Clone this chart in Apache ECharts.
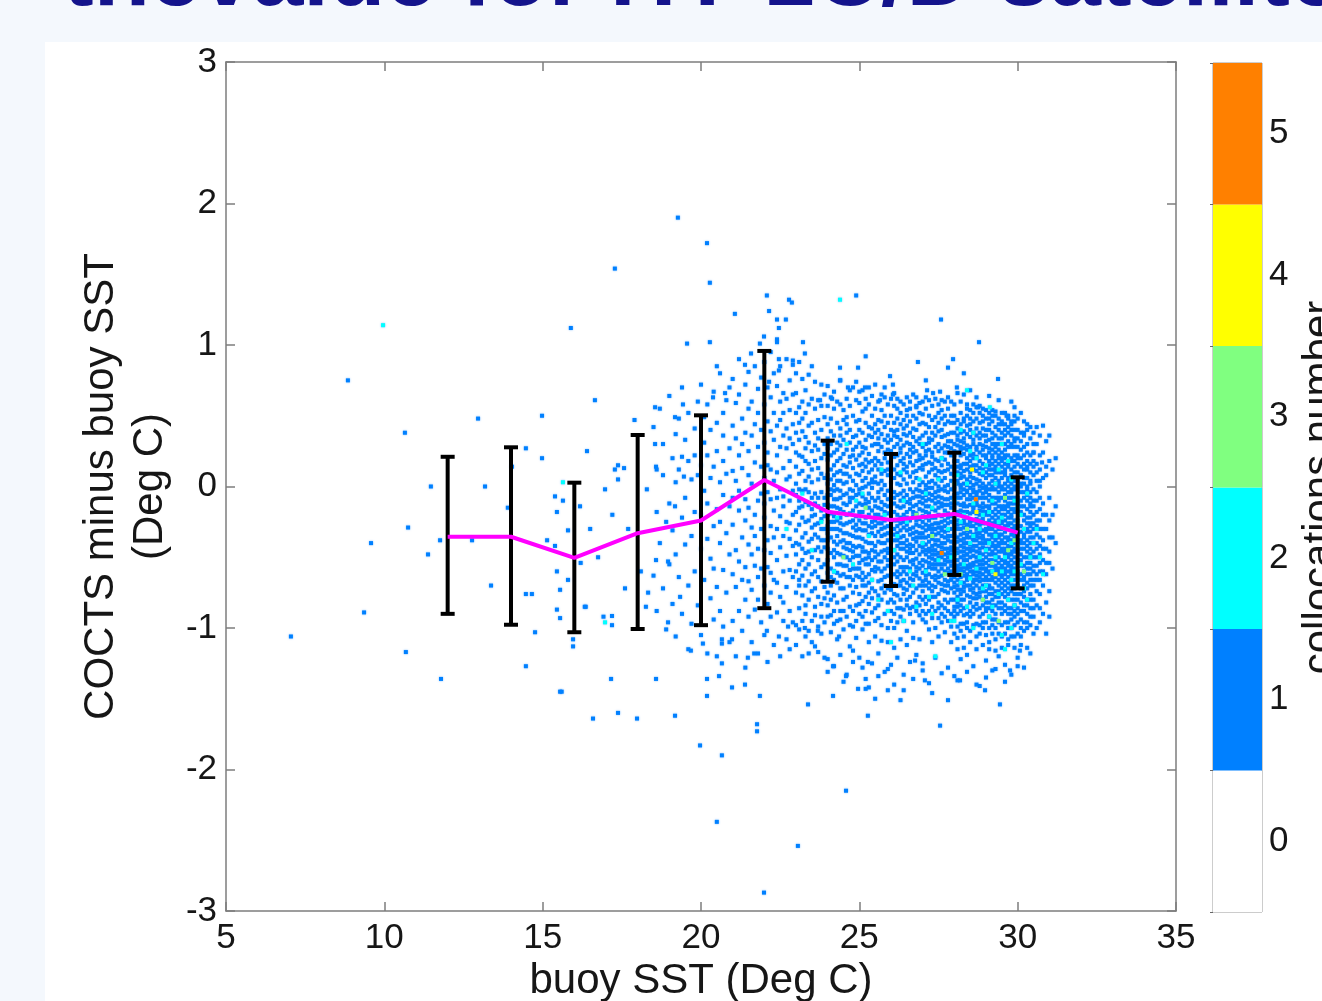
<!DOCTYPE html>
<html><head><meta charset="utf-8">
<script src="https://cdn.jsdelivr.net/npm/echarts@6/dist/echarts.min.js"></script>
<style>
html,body{margin:0;padding:0;background:#f4f8fd;width:1322px;height:1001px;overflow:hidden;}
#panel{position:absolute;left:45px;top:42px;right:0;bottom:0;background:#fff;}
#chart{position:absolute;left:0;top:0;width:1322px;height:1001px;}
</style></head><body><div id="panel"></div><div id="chart"></div>
<script>
// ---------------- DATA ----------------
// error-bar statistics per 2 °C bin
const binCenters = [12,14,16,18,20,22,24,26,28,30];
const binMean  = [-0.355,-0.355,-0.505,-0.33,-0.24,0.046,-0.178,-0.237,-0.194,-0.326];
const binUpper = [0.21,0.277,0.027,0.364,0.503,0.958,0.324,0.23,0.239,0.065];
const binLower = [-0.90,-0.977,-1.03,-1.007,-0.98,-0.86,-0.673,-0.703,-0.625,-0.72];

// colour-bar levels (collocations number)
const colorLevels = ['0','1','2','3','4','5'];

// occupied histogram cells with 1 collocation: [buoy SST, [differences in 0.01 °C]]
const sst18to20 = [
[18.5,[42,-63]],[18.6,[-18,12,-88]],[18.7,[55,-40]],[18.8,[-72,8,30]],[18.9,[-25,-101]],
[19.0,[64,-12,-55]],[19.1,[20,-83,-31]],[19.2,[-48,37,-106,3]],[19.3,[12,-64,48]],[19.4,[-22,-90,70]],
[19.5,[33,-41,-8]],[19.6,[-70,18,52,-115]],[19.7,[-35,5,-97]],[19.8,[41,-60,-18,22]],[19.9,[-84,8,60]]
];
const sst20to22 = [
[20.0,[-44,15,72,-105,-20]],[20.1,[31,-66,-3,49]],[20.2,[-118,-37,22,58,-12]],[20.3,[6,-79,40,-51]],
[20.4,[-28,67,-94,14,-58]],[20.5,[45,-16,-71,25,-120]],[20.6,[-40,3,80,-88,-25]],[20.7,[18,-59,52,-6,-99,36]],
[20.8,[-33,61,-75,9]],[20.9,[27,-48,-110,-14,70]],
[21.0,[-62,11,43,-27,-95,76,-8]],[21.1,[34,-45,-120,4,59,-71]],[21.2,[-17,65,-88,22,-53,-3,90]],
[21.3,[48,-36,-102,13,-66,30]],[21.4,[-9,72,-57,38,-128,-24,-80]],[21.5,[55,-41,8,-92,25,-15,-67,81]],
[21.6,[-29,36,-73,60,-110,2,-48]],[21.7,[17,-56,85,-20,-87,44,-35]],[21.8,[-64,28,-10,69,-118,-44,52,-80]],
[21.9,[40,-30,-96,14,77,-58,-5]]
];
const sst22to24 = [
[22.0,[-22,58,-70,31,-105,6,-45,88,-12]],[22.1,[46,-38,15,-83,70,-57,-4,24,-124]],
[22.2,[-61,12,95,-28,39,-92,-47,63,-9,-75]],[22.3,[33,-17,-66,80,4,-112,52,-36]],
[22.4,[-52,22,71,-8,-89,43,-30,104,-68,10]],[22.5,[60,-43,-2,28,-78,-120,47,-21,85]],
[22.6,[-14,36,-60,66,-95,13,-35,-7,52,-82]],[22.7,[27,-49,90,-25,5,-71,41,-108,62]],
[22.8,[-37,54,-88,18,-10,75,-59,34,-26,-115,7]],[22.9,[44,-20,-64,65,-3,-96,30,-42,86]],
[23.0,[52,38,-6,14,-31,-48,-60,-75,24,-18,2,-40,66,-98,-112,80]],
[23.1,[45,33,9,-15,-27,-41,-66,-86,-2,22,-55,-10,88,-101,-70,56]],
[23.2,[60,21,-3,-22,-36,-52,-63,-77,11,39,-14,-44,76,-95,-120,48]],
[23.3,[35,18,4,-11,-33,-47,-58,-70,27,-25,-84,52,68,-90,-106,-2]],
[23.4,[43,7,-13,-24,-39,-55,-67,31,16,-4,-80,58,79,-102,-118,-46]],
[23.5,[62,25,12,3,-8,-16,-29,-37,-50,-62,-74,45,85,-95,-110,-21]],
[23.6,[55,38,18,-5,-20,-34,-45,-60,-72,29,-12,-85,74,-91,-113,-27]],
[23.7,[47,26,13,5,-14,-26,-36,-43,-52,-64,-78,34,61,-99,-117,-8]],
[23.8,[57,40,20,9,-4,-17,-30,-46,-57,-67,-83,-23,72,-92,-104,-38]],
[23.9,[49,30,23,6,-8,-21,-13,-38,-43,-55,-71,-79,65,-96,-121,-30]]
];
const sst24to26 = [
[24.0,[57,44,34,19,8,2,-13,-28,-33,-44,-52,-61,-75,-84,27,-6,-20,-38,-92,-122,-131,71]],
[24.1,[63,48,30,22,12,5,-6,-19,-25,-36,-47,-58,-70,-80,-2,-14,-30,-64,-91,-103,39]],
[24.2,[55,36,24,15,8,-3,-14,-21,-30,-39,-50,-60,-66,-77,-88,-9,-45,-25,-97,-127,67,1]],
[24.3,[60,45,31,18,4,-9,-24,-35,-41,-47,-55,-68,-82,26,-15,-2,-30,-61,-95,-108,10]],
[24.4,[58,41,29,20,11,-3,-8,-16,-22,-31,-48,-55,-63,-72,-88,36,-39,-26,-94,-119,75,4]],
[24.5,[54,47,33,23,15,2,-12,-18,-27,-38,-43,-49,-62,-72,-80,-6,-33,-56,-88,-101,-138,9]],
[24.6,[62,44,38,26,14,3,-5,-20,-33,-44,-56,-64,-78,9,-13,-26,-40,-50,-92,-133,49]],
[24.7,[57,40,31,21,17,7,-2,-11,-25,-34,-45,-52,-59,-70,-85,-19,-8,-40,-98,-113,68,-64]],
[24.8,[50,35,26,13,4,-8,-17,-29,-42,-50,-58,-66,-75,22,-3,-24,-35,-88,-99,-124,70,-46]],
[24.9,[61,46,36,28,19,9,1,-6,-21,-27,-36,-43,-49,-58,-71,-84,-14,-31,-95,-107,74,-63]],
[25.0,[59,47,40,31,22,15,8,-2,-12,-24,-30,-36,-49,-58,-64,-76,-83,-5,-18,-42,-54,-90,-121,67]],
[25.1,[53,38,28,24,16,11,4,-7,-18,-26,-37,-43,-52,-61,-70,-81,-1,-13,-31,-46,-66,-92,-101,-128,68]],
[25.2,[62,55,45,33,27,19,14,6,0,-12,-22,-31,-39,-46,-55,-64,-70,-78,-88,-9,-26,-97,-136,-51]],
[25.3,[58,42,36,23,17,10,-5,-15,-20,-28,-40,-47,-55,-62,-68,-83,2,-34,-50,-75,-97,-110,-142,70,-11]],
[25.4,[64,50,41,35,29,18,12,5,-1,-8,-17,-25,-33,-40,-45,-52,-66,-72,-79,-89,-59,-125,-29,3]],
[25.5,[55,44,38,30,20,15,7,3,-10,-20,-28,-35,-42,-50,-60,-74,-86,-14,-24,-57,-95,-106,72,-46]],
[25.6,[60,47,40,34,25,18,12,2,-4,-15,-26,-32,-39,-48,-58,-67,-77,-84,-20,-8,-93,-118,-134,-53,30]],
[25.7,[54,46,37,28,16,9,4,-11,-16,-22,-30,-40,-53,-60,-66,-80,-2,-35,-46,-72,-98,-109,65,-26]],
[25.8,[63,50,42,33,24,20,11,1,-6,-13,-24,-34,-45,-58,-64,-70,-75,-18,-29,-50,-90,-131,70,-40]],
[25.9,[58,45,36,26,17,12,8,-9,-19,-28,-38,-47,-52,-56,-63,-72,-82,-3,-14,-33,-100,-110,-129,-44,31]]
];
const sst26to28 = [
[26.0,[62,50,40,33,25,18,14,10,3,-8,-20,-27,-35,-40,-47,-58,-64,-73,-80,-88,-13,-30,-52,-95,-126,-68,-2]],
[26.1,[57,45,39,28,21,12,6,-4,-12,-18,-30,-38,-45,-55,-62,-69,-82,-90,-24,-34,-50,-76,-100,-114,-140,66,36,-8]],
[26.2,[62,55,48,35,30,22,15,9,2,-6,-14,-24,-33,-42,-48,-53,-60,-70,-77,-86,-20,-38,-64,-96,-121,40,-28]],
[26.3,[60,52,44,33,27,18,8,1,-10,-15,-26,-36,-44,-50,-57,-62,-70,-80,-92,-5,-22,-31,-67,-108,24,-40,-86]],
[26.4,[58,47,41,37,29,20,16,12,5,-3,-8,-20,-29,-35,-40,-52,-60,-66,-76,-87,-44,-14,-25,-95,-133,-144,-57,-72]],
[26.5,[63,50,43,36,31,23,14,10,2,-11,-18,-27,-31,-38,-46,-50,-57,-68,-73,-80,-84,-22,-6,-62,-102,-112,-42]],
[26.6,[60,55,46,38,30,26,21,17,7,-2,-9,-16,-24,-34,-41,-47,-53,-58,-65,-78,-86,-30,-12,-44,-90,-124,-70]],
[26.7,[65,50,41,35,28,24,15,10,3,-4,-14,-21,-29,-37,-42,-47,-55,-62,-75,-85,-33,-8,-52,-96,-107,-136,-66,-18]],
[26.8,[63,57,48,40,32,25,18,11,6,-7,-13,-19,-27,-32,-39,-45,-51,-60,-63,-72,-82,-24,-2,-57,-119,-88,-36]],
[26.9,[59,52,44,34,30,22,19,13,1,-3,-11,-16,-23,-33,-36,-48,-58,-65,-70,-78,-84,-28,-42,-91,-108,-54,-7]],
[27.0,[60,51,45,36,28,20,15,12,3,-8,-17,-25,-29,-33,-40,-46,-52,-61,-67,-74,-80,-88,-12,-4,-36,-56,-94,-125,-130,-43,-21,-70]],
[27.1,[63,55,44,38,30,25,22,16,7,1,-10,-14,-22,-31,-36,-41,-48,-59,-66,-70,-78,-83,-2,-27,-53,-90,-96,-45,-63,-18,-6]],
[27.2,[61,50,42,34,31,26,17,10,3,-5,-9,-19,-24,-28,-35,-44,-50,-57,-62,-68,-72,-80,-14,-39,-54,-88,-101,-139,-46,-30,-1]],
[27.3,[57,47,38,33,24,21,16,12,4,-1,-6,-16,-27,-30,-37,-42,-48,-55,-64,-70,-74,-85,-22,-10,-58,-93,-110,-146,-33,-45,-78,-51]],
[27.4,[62,49,42,36,28,19,13,8,2,-4,-12,-22,-30,-34,-38,-45,-52,-58,-63,-71,-78,-88,-17,-26,-41,-100,-121,-66,-8,-55,-48]],
[27.5,[58,52,45,39,30,25,18,11,6,0,-7,-15,-20,-26,-38,-42,-47,-55,-60,-68,-76,-82,-33,-11,-50,-93,-106,-64,-29,-3,-86]],
[27.6,[61,54,48,40,35,27,20,15,10,4,-2,-8,-14,-21,-29,-35,-40,-46,-50,-58,-63,-73,-84,-25,-55,-90,-96,-132,-69,-43,-31,-12]],
[27.7,[60,50,44,36,29,24,19,11,6,-3,-9,-17,-24,-28,-32,-40,-48,-55,-60,-66,-74,-80,-86,-13,-44,-92,-103,-36,-52,-70,0]],
[27.8,[63,55,46,37,32,28,24,16,12,1,-4,-13,-19,-26,-31,-38,-44,-50,-53,-61,-67,-70,-82,-88,-9,-35,-95,-128,-58,-22,-47,-75]],
[27.9,[60,50,45,38,32,27,22,14,9,4,-8,-15,-21,-25,-30,-39,-45,-48,-56,-63,-66,-72,-80,-90,-12,-35,-99,-110,-53,-2,-43,-60]]
];
const sst28to30 = [
[28.0,[58,50,45,38,30,25,22,18,12,8,3,0,-2,-10,-15,-22,-28,-33,-35,-40,-48,-55,-58,-62,-68,-75,-80,-85,-92,-104,-6,-19,-44,-52,-71,-88,-134,-26,-64]],
[28.1,[66,47,41,36,33,29,24,14,10,4,-5,-12,-18,-24,-27,-36,-39,-44,-47,-52,-56,-60,-66,-70,-78,-85,-90,-99,-115,2,-8,-30,-58,-73,-82,-107,-137,-62,-20,18]],
[28.2,[60,52,44,38,32,26,22,15,13,6,1,-4,-8,-13,-20,-26,-30,-34,-38,-46,-50,-55,-64,-68,-73,-76,-84,-97,-122,-42,-60,-17,-88,-102,9,-80,-58,-1,28]],
[28.3,[65,48,46,39,34,31,27,23,16,11,7,2,-2,-6,-14,-18,-24,-29,-33,-37,-43,-49,-57,-63,-68,-74,-80,-86,-91,-106,-40,-60,-12,-52,-97,-114,-71,-26,-46]],
[28.4,[58,55,50,43,37,29,26,20,16,12,5,1,-3,-9,-14,-22,-27,-31,-36,-40,-44,-48,-52,-58,-62,-64,-70,-77,-85,-96,-100,-119,-131,-18,-56,-34,-4,-66,-90,-48]],
[28.5,[68,54,48,44,40,35,28,22,18,14,10,7,3,-6,-13,-19,-24,-28,-32,-36,-41,-46,-50,-55,-60,-64,-70,-78,-82,-88,-92,-102,-9,-44,-57,-73,-110,-1,-25]],
[28.6,[58,52,46,38,33,30,23,20,15,6,1,-2,-8,-14,-16,-24,-28,-34,-38,-42,-45,-49,-54,-60,-62,-68,-75,-79,-85,-90,-127,-18,-56,-66,-98,-4,-37,-72,12]],
[28.7,[63,56,48,41,36,28,26,21,15,11,5,2,-4,-6,-11,-19,-26,-30,-35,-38,-42,-46,-50,-53,-60,-66,-70,-76,-79,-87,-97,-115,-140,-13,-23,-57,-63,-83,-106,-33]],
[28.8,[57,52,45,38,34,30,24,18,13,9,4,0,-3,-8,-14,-17,-24,-30,-36,-40,-44,-47,-52,-58,-64,-67,-72,-78,-86,-92,-104,-20,-27,-55,-61,-75,-141,-33,-98]],
[28.9,[55,50,46,41,36,29,22,16,12,8,2,-5,-8,-12,-18,-23,-31,-35,-37,-43,-48,-55,-58,-62,-66,-74,-80,-84,-90,-100,-112,-26,-15,-52,-70,-96,-40,-1,26]],
[29.0,[54,48,40,36,32,28,20,14,10,6,0,-4,-8,-14,-20,-26,-32,-38,-40,-46,-50,-54,-58,-64,-70,-74,-78,-82,-88,-96,-105,-2,-18,-30,-44,-60,-66,-86,-123,-135,22]],
[29.1,[64,52,48,44,40,33,27,24,18,15,12,8,2,-2,-6,-16,-24,-28,-34,-38,-44,-48,-56,-60,-62,-70,-76,-82,-92,-100,-110,-10,-20,-30,-52,-66,-86,-115,-40,-72,-14]],
[29.2,[54,50,46,38,34,30,26,22,16,12,8,4,-2,-12,-18,-22,-26,-30,-36,-42,-46,-52,-56,-60,-66,-72,-80,-88,-94,-104,-8,-34,-48,-64,-76,-84,-98,-130,0,20,-40]],
[29.3,[53,50,42,36,30,28,24,18,14,12,6,2,-8,-16,-20,-26,-32,-36,-38,-44,-48,-52,-58,-64,-74,-84,-90,-100,-116,-2,-12,-28,-42,-56,-68,-78,-94,-108,-129,-60,10,-24]],
[29.4,[61,48,44,40,34,30,26,22,20,16,10,4,0,-4,-10,-14,-22,-28,-34,-40,-42,-46,-50,-54,-60,-66,-70,-78,-86,-96,-120,-18,-30,-58,-74,-82,-104,-36,-62,-8,2]],
[29.5,[52,46,44,38,34,30,24,18,14,10,6,0,-2,-14,-20,-24,-30,-34,-40,-46,-52,-58,-62,-68,-76,-82,-90,-98,-106,-8,-26,-38,-44,-56,-72,-86,-114,-64,-16,20]],
[29.6,[52,44,40,36,30,26,22,20,16,12,8,2,-6,-10,-16,-20,-28,-32,-36,-44,-48,-52,-58,-62,-70,-78,-88,-96,-126,-138,-14,-24,-40,-54,-66,-74,-84,-104,-2,-46,-60,10]],
[29.7,[50,48,42,38,32,28,22,16,14,6,4,0,-8,-12,-18,-22,-28,-30,-36,-44,-48,-54,-60,-64,-72,-80,-90,-100,-108,-4,-26,-38,-42,-56,-68,-76,-86,-96,-112,-14,-50]],
[29.8,[60,46,44,40,36,30,28,20,18,12,8,2,-4,-8,-16,-22,-26,-34,-38,-46,-52,-60,-62,-70,-80,-86,-94,-100,-133,-12,-30,-42,-48,-56,-66,-74,-90,-106,-2,-20,-58]],
[29.9,[50,46,40,34,32,28,22,18,14,10,6,0,-2,-12,-18,-24,-30,-36,-40,-46,-50,-54,-62,-66,-76,-80,-88,-92,-106,-8,-28,-44,-58,-70,-84,-98,-114,-34,-16,-72,4]]
];
const sst30to32 = [
[30.0,[48,40,34,28,20,16,10,4,-8,-16,-24,-28,-34,-42,-46,-52,-60,-70,-76,-86,-96,-104,-127,-2,-12,-38,-56,-64,-80,-90,-121,22]],
[30.1,[52,38,32,26,20,14,8,0,-4,-10,-18,-28,-38,-44,-56,-62,-72,-82,-94,-100,-112,-20,-32,-48,-52,-66,-76,-88,-106,-14,-40,2]],
[30.2,[46,36,28,22,16,12,2,-4,-14,-20,-30,-34,-40,-50,-56,-64,-70,-78,-88,-102,-8,-24,-44,-60,-74,-84,-96,-128,6,-36,-66]],
[30.3,[44,40,30,24,18,12,6,-2,-10,-16,-26,-38,-46,-54,-62,-68,-80,-90,-100,-114,-6,-22,-32,-42,-58,-72,-84,-96,-50,0,-30,14]],
[30.4,[42,34,22,16,10,2,-4,-14,-22,-32,-40,-48,-58,-66,-76,-86,-92,-118,-8,-18,-28,-36,-44,-54,-62,-70,-80,-98,-26,4,-50,-12]],
[30.5,[38,30,24,18,14,8,-2,-20,-30,-40,-50,-60,-70,-80,-92,-104,-10,-26,-36,-46,-56,-66,-86,-14]],
[30.6,[42,30,16,4,-10,-18,-34,-44,-56,-66,-84,-100,-24,-40,-50,-74,-4,-28,-62,10]],
[30.7,[36,22,12,0,-24,-36,-48,-60,-76,-96,-8,-30,-42,-54,-66,-16,-86,4]],
[30.8,[43,24,6,-12,-30,-38,-52,-70,-90,-20,-44,-60]],
[30.9,[32,14,8,-20,-44,-62,-82,-104,-30,-54]],
[31.0,[36,18,-8,-36,-54,-74,-92,-24,-46]],
[31.1,[12,-20,-58,-36]],
[31.2,[20,-40,-14]]
];

// isolated cells with 1 collocation: [buoy SST, difference]
const isolatedCells = [
[7.05,-1.06],[8.85,0.75],[9.36,-0.89],[9.58,-0.40],[10.65,0.38],[10.68,-1.17],[10.75,-0.29],[11.47,0.0],
[11.38,-0.48],[11.76,-0.38],[11.79,-1.36],[12.96,0.48],[12.77,-0.38],[13.18,0.0],[13.37,-0.70],[13.9,-0.15],
[14.03,0.14],[14.47,0.27],[14.98,0.50],[14.98,0.20],[14.47,-0.76],[14.66,-0.76],[14.47,-1.27],[14.76,-1.03],
[15.55,-1.45],[15.39,-0.07],[15.64,-0.10],[15.45,-0.18],[15.8,-0.31],[15.14,-0.38],[15.39,-0.42],[15.45,-0.60],
[15.8,-0.66],[15.55,-0.73],[15.45,-0.87],[15.55,-0.93],[15.89,1.12],[17.28,1.54],[19.27,1.90],[20.19,1.72],
[20.28,1.44],[16.65,0.61],[15.96,-1.13],[15.96,-1.08],[16.36,-0.85],[15.6,-1.45],[17.16,-1.36],[18.58,-1.36],
[16.59,-1.64],[17.38,-1.60],[17.98,-1.64],[19.18,-1.62],[17.19,-0.915],[17.19,-0.98],[18.26,-0.85],[18.96,-0.96],
[16.18,-0.14],[16.2,-0.54],[16.75,-0.50],[16.33,-0.85],[16.97,-0.02],[17.2,-0.20],[17.38,0.15],[17.38,0.05],
[17.57,0.13],[17.28,0.12],[16.92,-0.92],[18.29,-0.02],[18.55,0.56],[18.55,0.30],[18.58,0.14],[18.58,-0.52],
[18.33,-0.75],[18.96,-0.53],[19.34,-0.78],[19.18,0.49],[19.43,0.58],[19.18,-0.14],[19.46,0.07],[19.4,0.21],
[17.9,0.47],[16.4,0.25],[17.7,-0.30],[16.5,-0.30],[18.1,-0.60],[17.6,-0.72],
[19.68,-1.16],[20.06,-1.11],[20.66,-1.08],[20.66,-1.11],[20.98,-1.08],[20.66,-1.25],[20.57,-1.34],[20.98,-1.42],
[21.39,-1.40],[21.86,-1.48],[21.48,-1.21],[21.68,-1.18],[20.19,-1.36],[20.19,-1.48],[22.08,-1.02],[22.46,-1.06],
[22.75,-0.99],[23.28,-1.0],[23.69,-1.02],[23.38,-1.54],[24.17,-1.48],[24.58,-1.34],[24.17,-1.27],[24.8,-1.16],
[24.36,-1.06],[24.96,-1.43],[25.2,-1.43],[25.5,-1.50],[25.27,-1.62],[25.27,-1.24],[21.77,-1.68],[21.77,-1.73],
[19.97,-1.83],[20.66,-1.90],[24.58,-2.15],[20.5,-2.37],[23.06,-2.54],[21.99,-2.87],
[25.9,-1.44],[27.07,-1.37],[27.55,-1.69],[29.44,-1.54],[28.97,-1.44],[29.76,-1.30],[30.07,-1.16],[28.18,-1.37],
[27.8,-1.51],[26.76,-1.23],[26.3,-1.51],
[22.08,1.35],[22.78,1.32],[22.87,1.30],[22.15,1.24],[21.07,1.22],[22.4,1.18],[22.68,1.18],[22.46,1.12],
[21.99,1.06],[19.56,1.01],[20.28,1.02],[21.86,1.01],[22.4,1.02],[23.22,1.02],[23.28,0.94],[21.58,0.94],
[21.39,0.86],[20.5,0.85],[22.46,0.90],[22.9,0.89],[22.46,0.82],[22.15,0.74],[20.76,0.66],[20.38,0.63],
[24.9,1.35],[27.58,1.18],[28.78,1.02],[25.2,0.92],[24.39,0.84],[24.96,0.84],[26.85,0.88],[27.96,0.90],
[27.8,0.84],[28.3,0.80],[29.38,0.76],[25.97,0.78],[24.39,0.75],[24.64,0.70],[25.18,0.70],[26.06,0.72],
[27.1,0.75],[28.08,0.70],[23.76,0.61],[24.14,0.62],[25.65,0.61],[26.06,0.65],[26.5,0.54],[26.8,0.56],
[27.14,0.68],[27.33,0.66],[27.55,0.67],[28.75,0.56],[29.9,0.56],[29.65,0.50],[30.2,0.38],[30.5,0.24],[30.77,0.17]
];
// cells with 2, 3, 4, 5 collocations
const cells2 = [
[24.39,1.32],[15.64,0.03],[16.97,-0.96],[28.4,0.68],[29.12,0.56],[9.96,1.14],
[24.3,-0.22],[24.8,-0.55],[25.1,-0.05],[25.4,-0.66],[25.7,0.12],[25.9,-0.88],[26.2,-0.35],[26.4,-0.10],
[26.6,-0.60],[26.9,0.05],[27.0,-0.40],[27.2,-0.78],[27.3,-0.15],[27.5,-0.52],[27.6,0.20],[27.8,-0.30],
[27.9,-0.95],[28.0,-0.48],[28.1,0.08],[28.2,-0.68],[28.3,-0.20],[28.4,-0.85],[28.5,-0.40],[28.5,0.25],
[28.6,-0.12],[28.7,-0.58],[28.8,-0.30],[28.9,-0.72],[28.9,0.10],[29.0,-0.45],[29.1,-0.18],[29.1,-0.92],
[29.2,-0.60],[29.3,0.02],[29.3,-0.35],[29.4,-0.76],[29.5,-0.22],[29.5,-1.05],[29.6,-0.50],[29.7,0.18],
[29.7,-0.30],[29.8,-0.66],[29.9,-0.10],[29.9,-0.84],[30.0,-0.42],[30.1,-0.20],[30.2,-0.72],[30.3,-0.05],
[30.4,-0.50],[30.6,-0.30],[26.0,-1.10],[27.4,-1.20],[28.6,-1.00],[23.5,-0.45],[22.7,-0.30],[24.6,0.30],
[26.8,-0.85],[28.2,0.40],[29.6,-1.15],[30.8,-0.62],
[26.1,-0.45],[26.3,0.10],[26.5,-0.25],[26.7,-0.70],[27.1,-0.05],[27.1,-0.60],[27.3,-0.90],[27.5,0.05],
[27.7,-0.20],[27.9,-0.50],[28.0,-0.10],[28.1,-0.80],[28.2,-0.25],[28.3,-0.55],[28.4,0.02],[28.5,-0.65],
[28.6,-0.35],[28.7,0.20],[28.8,-0.50],[28.9,-0.20],[29.0,-0.70],[29.0,0.15],[29.1,-0.40],[29.2,-0.10],
[29.2,-0.85],[29.3,-0.50],[29.4,-0.25],[29.4,0.12],[29.5,-0.60],[29.6,-0.30],[29.7,-0.80],[29.8,-0.40],
[29.8,0.05],[29.9,-0.60],[30.0,-0.15],[30.1,-0.55],[30.2,-0.30],[30.3,-0.80],[30.5,-0.40],[30.7,-0.50],
[25.3,-0.35],[25.6,-0.80],[25.8,-0.20],[24.9,-0.10],[24.2,-0.60],[23.8,-0.25],[23.2,-0.05],[27.0,0.30],
[28.6,0.38],[29.5,0.30],[26.4,-0.95],[28.0,-0.95],[29.8,-1.00]
];
const cells3 = [[28.4,-0.30],[29.2,-0.54],[26.8,-0.20],[29.6,-0.08],[27.7,-0.62],[25.2,-0.15],[28.9,-0.80],
[29.9,-0.38],[24.5,-0.50],[30.2,-0.60],[28.0,0.02],[29.4,-0.95],[28.2,-0.62],[29.7,-0.45],[27.3,-0.35],[30.0,-0.25]];
const cells4 = [[28.56,0.12],[28.7,-0.18],[29.3,-0.62]];
const cells5 = [[28.68,-0.09],[27.6,-0.47]];

// ---------------- STYLE ----------------
const colorbarColors = ['#ffffff','#0080ff','#00ffff','#80ff80','#ffff00','#ff8000'];
const FONT = "'Liberation Sans', Arial, sans-serif";
const frameColor = '#7d7d7d';
const textColor = '#161616';

// ---------------- BUILD ----------------
const scatterData = [];
[sst18to20, sst20to22, sst22to24, sst24to26, sst26to28, sst28to30, sst30to32].forEach(group => {
  group.forEach(([x, ys]) => ys.forEach(y => scatterData.push([x, y / 100, 1])));
});
isolatedCells.forEach(p => scatterData.push([p[0], p[1], 1]));
cells2.forEach(p => scatterData.push([p[0], p[1], 2]));
cells3.forEach(p => scatterData.push([p[0], p[1], 3]));
cells4.forEach(p => scatterData.push([p[0], p[1], 4]));
cells5.forEach(p => scatterData.push([p[0], p[1], 5]));

const errData = binCenters.map((x, i) => [x, binLower[i], binUpper[i]]);
const meanData = binCenters.map((x, i) => [x, binMean[i]]);

const axisCommon = {
  axisLine: {show: true, onZero: false, lineStyle: {color: frameColor, width: 1.5}},
  axisTick: {show: true, inside: true, length: 9, lineStyle: {color: frameColor, width: 1.5}},
  splitLine: {show: false}
};
const labelStyle = {fontSize: 35, color: textColor, fontFamily: FONT};

const chart = echarts.init(document.getElementById('chart'), null, {renderer: 'canvas'});
chart.setOption({
  animation: false,
  backgroundColor: 'transparent',
  title: {
    text: 'thevalue for HY-1C/D satellite',
    left: 58, top: -71,
    textStyle: {fontSize: 92, fontWeight: 'bold', color: '#14148c', fontFamily: FONT}
  },
  grid: [
    {left: 226, top: 62, width: 950, height: 849, containLabel: false, outerBoundsMode: 'none'},
    {left: 1213, top: 63, width: 49, height: 849, containLabel: false, outerBoundsMode: 'none',
      show: true, borderColor: '#9a9a9a', borderWidth: 1, backgroundColor: 'transparent'}
  ],
  xAxis: [
    Object.assign({type: 'value', gridIndex: 0, min: 5, max: 35, interval: 5, position: 'bottom',
      axisLabel: Object.assign({margin: 10}, labelStyle),
      name: 'buoy SST (Deg C)', nameLocation: 'middle', nameGap: 46,
      nameTextStyle: {fontSize: 42, color: textColor, fontFamily: FONT}}, axisCommon),
    Object.assign({type: 'value', gridIndex: 0, min: 5, max: 35, interval: 5, position: 'top',
      axisLabel: {show: false}}, axisCommon),
    {type: 'value', gridIndex: 1, min: 0, max: 1, show: false}
  ],
  yAxis: [
    Object.assign({type: 'value', gridIndex: 0, min: -3, max: 3, interval: 1, position: 'left',
      axisLabel: Object.assign({margin: 9}, labelStyle),
      name: 'COCTS minus buoy SST\n(Deg C)', nameLocation: 'middle', nameGap: 45, nameRotate: 90,
      nameTextStyle: {fontSize: 42, lineHeight: 49, color: textColor, fontFamily: FONT}}, axisCommon),
    Object.assign({type: 'value', gridIndex: 0, min: -3, max: 3, interval: 1, position: 'right',
      axisLabel: {show: false}}, axisCommon),
    {type: 'category', gridIndex: 1, data: colorLevels, position: 'right',
      axisLine: {show: false},
      axisTick: {show: true, inside: true, length: 3, lineStyle: {color: '#666'}},
      axisLabel: Object.assign({margin: 7, padding: [12, 0, 0, 0]}, labelStyle),
      name: 'collocations number', nameLocation: 'middle', nameGap: 37, nameRotate: 90,
      nameTextStyle: {fontSize: 42, color: textColor, fontFamily: FONT}}
  ],
  visualMap: {
    type: 'piecewise', show: false, dimension: 2, seriesIndex: 0,
    pieces: [
      {value: 1, color: colorbarColors[1]}, {value: 2, color: colorbarColors[2]},
      {value: 3, color: colorbarColors[3]}, {value: 4, color: colorbarColors[4]},
      {value: 5, color: colorbarColors[5]}
    ]
  },
  series: [
    {type: 'scatter', xAxisIndex: 0, yAxisIndex: 0, data: scatterData, symbol: 'rect',
      symbolSize: 4, silent: true, z: 2,
      itemStyle: {opacity: 1, shadowBlur: 2, shadowColor: 'rgba(0,128,255,0.55)'}},
    {type: 'custom', xAxisIndex: 0, yAxisIndex: 0, data: errData, z: 3, silent: true,
      encode: {x: 0, y: [1, 2]},
      renderItem: function (params, api) {
        const x = api.value(0);
        const lo = api.coord([x, api.value(1)]);
        const hi = api.coord([x, api.value(2)]);
        const w = 7;
        const st = {stroke: '#000', lineWidth: 4};
        return {type: 'group', children: [
          {type: 'line', shape: {x1: lo[0], y1: lo[1], x2: hi[0], y2: hi[1]}, style: st},
          {type: 'line', shape: {x1: hi[0] - w, y1: hi[1], x2: hi[0] + w, y2: hi[1]}, style: st},
          {type: 'line', shape: {x1: lo[0] - w, y1: lo[1], x2: lo[0] + w, y2: lo[1]}, style: st}
        ]};
      }},
    {type: 'line', xAxisIndex: 0, yAxisIndex: 0, data: meanData, symbol: 'none', z: 4, silent: true,
      lineStyle: {color: '#ff00ff', width: 4}},
    {type: 'bar', xAxisIndex: 2, yAxisIndex: 2, silent: true, barWidth: '100%', barCategoryGap: '0%',
      data: colorLevels.map((v, i) => ({value: 1, itemStyle: {color: colorbarColors[i]}}))}
  ]
});
</script></body></html>
